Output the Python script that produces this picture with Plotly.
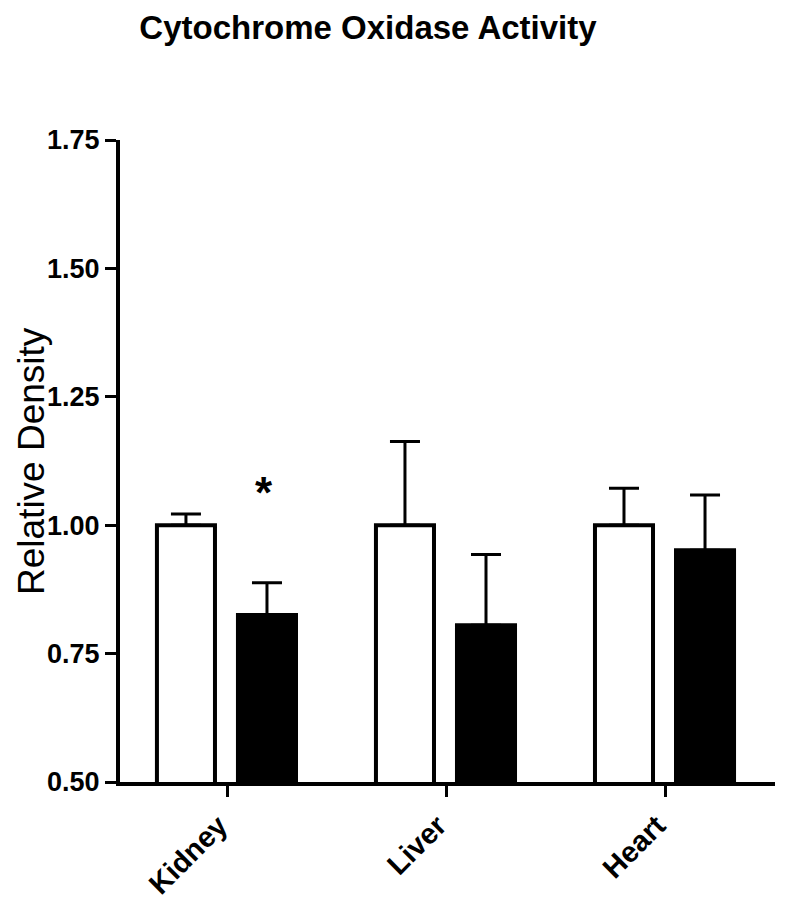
import plotly.graph_objects as go

categories = ["Kidney", "Liver", "Heart"]
control_values = [1.00, 1.00, 1.00]
control_err = [0.022, 0.163, 0.072]
treated_values = [0.825, 0.805, 0.951]
treated_err = [0.063, 0.138, 0.108]
y_ticks = [0.50, 0.75, 1.00, 1.25, 1.50, 1.75]
y_tick_labels = ["0.50", "0.75", "1.00", "1.25", "1.50", "1.75"]

FONT = "Arial, 'Liberation Sans', sans-serif"

fig = go.Figure()
fig.add_trace(go.Bar(
    x=categories, y=control_values, offset=-0.32, width=0.265,
    marker=dict(color="white", line=dict(color="black", width=4)),
    error_y=dict(type="data", array=control_err, arrayminus=[0]*3, symmetric=False,
                 color="black", thickness=3, width=15),
    showlegend=False,
))
fig.add_trace(go.Bar(
    x=categories, y=treated_values, offset=0.05, width=0.265,
    marker=dict(color="black", line=dict(color="black", width=4)),
    error_y=dict(type="data", array=treated_err, arrayminus=[0]*3, symmetric=False,
                 color="black", thickness=3, width=15),
    showlegend=False,
))

fig.add_annotation(x=0.17, y=1.063, xref="x", yref="y", text="<b>*</b>", showarrow=False,
                   font=dict(family=FONT, size=44, color="black"))

# y-axis title as rotated annotation
fig.add_annotation(x=-89 / 655, y=0.5, xref="paper", yref="paper", text="Relative Density",
                   textangle=-90, showarrow=False, xanchor="center", yanchor="middle",
                   borderpad=0, font=dict(family=FONT, size=37, color="black"))

fig.update_layout(
    width=778, height=906,
    margin=dict(l=112, r=11, t=132, b=132, autoexpand=False),
    plot_bgcolor="white", paper_bgcolor="white",
    barmode="overlay",
    font=dict(family=FONT, color="black"),
    title=dict(text="<b>Cytochrome Oxidase Activity</b>", xref="container", yref="container",
               x=0.4627, y=0.979, xanchor="center", yanchor="middle",
               font=dict(family=FONT, size=33, color="black")),
)
fig.update_xaxes(
    type="category", range=[-0.4886, 2.502], automargin=False,
    showline=True, linecolor="black", linewidth=4,
    ticks="outside", ticklen=11, tickwidth=3, tickcolor="black",
    tickangle=-45, tickfont=dict(family=FONT, size=29, color="black"),
    tickprefix="<b>", ticksuffix="</b>", ticklabelshift=-8,
    showgrid=False, zeroline=False,
)
fig.update_yaxes(
    range=[0.5, 1.75], tickvals=y_ticks, ticktext=["<b>%s</b>" % t for t in y_tick_labels],
    automargin=False,
    showline=True, linecolor="black", linewidth=4,
    ticks="outside", ticklen=11, tickwidth=3, tickcolor="black",
    tickfont=dict(family=FONT, size=27, color="black"),
    showgrid=False, zeroline=False,
)

fig.write_html("out.html")
